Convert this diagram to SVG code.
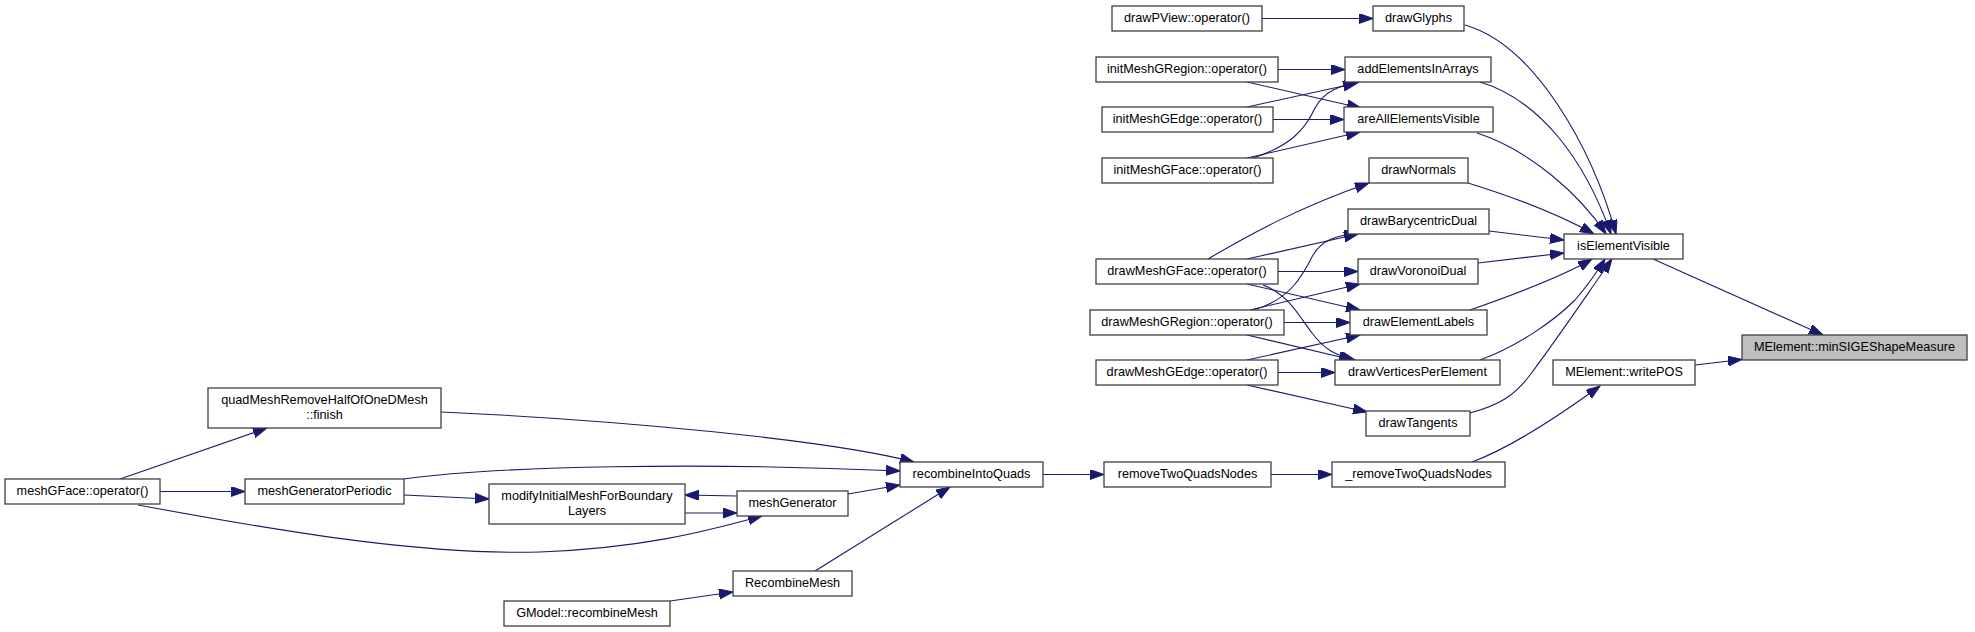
<svg xmlns="http://www.w3.org/2000/svg" width="1975" height="632" viewBox="0 0 1975 632">
<style>
.n rect{fill:#ffffff;stroke:#404040;stroke-width:1.3}
.n.h rect{fill:#bfbfbf}
.n text{font-family:"Liberation Sans",Arial,sans-serif;font-size:12.7px;fill:#000;text-anchor:middle}
.e path{fill:none;stroke:#191970;stroke-width:1.1;marker-end:url(#a)}
</style>
<defs>
<marker id="a" markerUnits="userSpaceOnUse" markerWidth="15" markerHeight="11" refX="14" refY="5" orient="auto">
<path d="M0,0 L14,5 L0,10 Z" fill="#191970" stroke="#191970" stroke-width="1"/>
</marker>
</defs>
<rect width="1975" height="632" fill="#ffffff"/>
<g id="edges" class="e">
<path d="M1262,18.5 L1373,18.5"/>
<path d="M1278,69.5 L1345,69.5"/>
<path d="M1247,82 L1361,108"/>
<path d="M1247,107 L1357,83"/>
<path d="M1273,119.5 L1344,119.5"/>
<path d="M1253,158 C1290,146 1305,130 1315,108 C1325,90 1340,86 1359,82"/>
<path d="M1247,158 L1360,132"/>
<path d="M1208,259 C1250,234 1300,207 1369,183"/>
<path d="M1247,259 L1358,234"/>
<path d="M1278,271.5 L1358,271.5"/>
<path d="M1247,284 L1360,310"/>
<path d="M1263,285 C1290,295 1300,318 1312,333 C1325,350 1335,355 1355,360"/>
<path d="M1253,310 C1290,300 1303,275 1313,255 C1322,240 1335,236 1358,233"/>
<path d="M1250,310 L1360,284"/>
<path d="M1284,322.5 L1350,322.5"/>
<path d="M1247,335 L1353,360"/>
<path d="M1247,360 L1360,335"/>
<path d="M1278,372.5 L1335,372.5"/>
<path d="M1247,385 L1367,412"/>
<path d="M1465,25 C1535,45 1592,148 1616,234"/>
<path d="M1480,82 C1540,100 1585,160 1611,234"/>
<path d="M1477,133 C1530,150 1580,195 1606,234"/>
<path d="M1468,183 C1510,196 1560,215 1594,234"/>
<path d="M1489,231 L1564,240"/>
<path d="M1478,263 L1564,253"/>
<path d="M1470,310 C1510,296 1560,278 1592,259"/>
<path d="M1480,360 C1520,345 1555,320 1575,300 C1588,285 1597,272 1605,259"/>
<path d="M1470,413 C1500,405 1515,395 1530,375 C1560,335 1590,290 1612,259"/>
<path d="M1653,259 L1823,335"/>
<path d="M1695,365 L1742,359.5"/>
<path d="M1472,462 C1510,448 1560,415 1600,386"/>
<path d="M1271,474.5 L1332,474.5"/>
<path d="M1043,474.5 L1104,474.5"/>
<path d="M441,412 C620,420 830,440 914,462"/>
<path d="M404,479 C500,466 700,462 900,471"/>
<path d="M848,494 L900,485"/>
<path d="M815,571 L950,487"/>
<path d="M120,479 L267,428"/>
<path d="M160,491.5 L245,491.5"/>
<path d="M138,505 C300,535 430,555 540,552 C640,548 700,533 762,516"/>
<path d="M404,495 L489,499"/>
<path d="M685,513 L737,513"/>
<path d="M737,496 L685,495"/>
<path d="M670,601 L733,592"/>
</g>
<g id="n_drawPView" class="n"><rect x="1112" y="6" width="150" height="25"/><text x="1187" y="22">drawPView::operator()</text></g>
<g id="n_drawGlyphs" class="n"><rect x="1373" y="6" width="91" height="25"/><text x="1418.5" y="22">drawGlyphs</text></g>
<g id="n_initMeshGRegion" class="n"><rect x="1096" y="57" width="182" height="25"/><text x="1187" y="73">initMeshGRegion::operator()</text></g>
<g id="n_addElementsInArrays" class="n"><rect x="1345" y="57" width="146" height="25"/><text x="1418" y="73">addElementsInArrays</text></g>
<g id="n_initMeshGEdge" class="n"><rect x="1102" y="107" width="171" height="25"/><text x="1187.5" y="123">initMeshGEdge::operator()</text></g>
<g id="n_areAllElementsVisible" class="n"><rect x="1344" y="107" width="149" height="25"/><text x="1418.5" y="123">areAllElementsVisible</text></g>
<g id="n_initMeshGFace" class="n"><rect x="1102" y="158" width="171" height="25"/><text x="1187.5" y="174">initMeshGFace::operator()</text></g>
<g id="n_drawNormals" class="n"><rect x="1369" y="158" width="99" height="25"/><text x="1418.5" y="174">drawNormals</text></g>
<g id="n_drawBarycentricDual" class="n"><rect x="1348" y="209" width="141" height="25"/><text x="1418.5" y="225">drawBarycentricDual</text></g>
<g id="n_drawMeshGFace" class="n"><rect x="1096" y="259" width="182" height="25"/><text x="1187" y="275">drawMeshGFace::operator()</text></g>
<g id="n_drawVoronoiDual" class="n"><rect x="1358" y="259" width="120" height="25"/><text x="1418" y="275">drawVoronoiDual</text></g>
<g id="n_drawMeshGRegion" class="n"><rect x="1090" y="310" width="194" height="25"/><text x="1187" y="326">drawMeshGRegion::operator()</text></g>
<g id="n_drawElementLabels" class="n"><rect x="1350" y="310" width="137" height="25"/><text x="1418.5" y="326">drawElementLabels</text></g>
<g id="n_drawMeshGEdge" class="n"><rect x="1096" y="360" width="182" height="25"/><text x="1187" y="376">drawMeshGEdge::operator()</text></g>
<g id="n_drawVerticesPerElement" class="n"><rect x="1335" y="360" width="165" height="25"/><text x="1417.5" y="376">drawVerticesPerElement</text></g>
<g id="n_drawTangents" class="n"><rect x="1366" y="411" width="104" height="25"/><text x="1418" y="427">drawTangents</text></g>
<g id="n_isElementVisible" class="n"><rect x="1564" y="234" width="119" height="25"/><text x="1623.5" y="250">isElementVisible</text></g>
<g id="n_minSIGEShapeMeasure" class="n h"><rect x="1742" y="335" width="225" height="25"/><text x="1854.5" y="351">MElement::minSIGEShapeMeasure</text></g>
<g id="n_writePOS" class="n"><rect x="1553" y="360" width="142" height="25"/><text x="1624" y="376">MElement::writePOS</text></g>
<g id="n__removeTwoQuadsNodes" class="n"><rect x="1332" y="462" width="173" height="25"/><text x="1418.5" y="478">_removeTwoQuadsNodes</text></g>
<g id="n_removeTwoQuadsNodes" class="n"><rect x="1104" y="462" width="167" height="25"/><text x="1187.5" y="478">removeTwoQuadsNodes</text></g>
<g id="n_recombineIntoQuads" class="n"><rect x="900" y="462" width="143" height="25"/><text x="971.5" y="478">recombineIntoQuads</text></g>
<g id="n_quadMeshFinish" class="n"><rect x="208" y="388" width="233" height="40"/><text x="324.5" y="404">quadMeshRemoveHalfOfOneDMesh</text><text x="324.5" y="419">::finish</text></g>
<g id="n_meshGFace" class="n"><rect x="5" y="479" width="155" height="25"/><text x="82.5" y="495">meshGFace::operator()</text></g>
<g id="n_meshGeneratorPeriodic" class="n"><rect x="245" y="479" width="159" height="25"/><text x="324.5" y="495">meshGeneratorPeriodic</text></g>
<g id="n_modifyInitialMesh" class="n"><rect x="489" y="484" width="196" height="40"/><text x="587" y="500">modifyInitialMeshForBoundary</text><text x="587" y="515">Layers</text></g>
<g id="n_meshGenerator" class="n"><rect x="737" y="491" width="111" height="25"/><text x="792.5" y="507">meshGenerator</text></g>
<g id="n_RecombineMesh" class="n"><rect x="733" y="571" width="119" height="25"/><text x="792.5" y="587">RecombineMesh</text></g>
<g id="n_GModelRecombineMesh" class="n"><rect x="504" y="601" width="166" height="25"/><text x="587" y="617">GModel::recombineMesh</text></g>
</svg>
